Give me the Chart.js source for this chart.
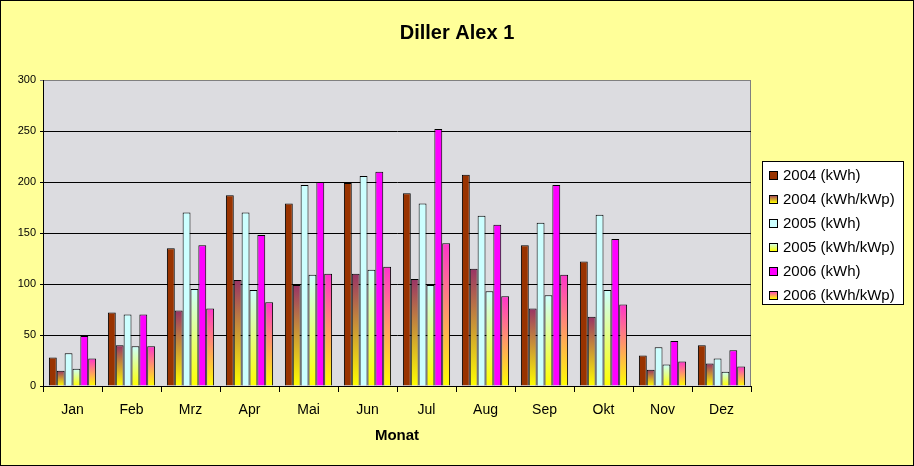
<!DOCTYPE html>
<html>
<head>
<meta charset="utf-8">
<title>Diller Alex 1</title>
<script src="https://cdn.jsdelivr.net/npm/chart.js@4/dist/chart.umd.min.js"></script>
<style>
  html, body { margin: 0; padding: 0; background: #FFFF99; }
  #wrap { width: 914px; height: 466px; }
</style>
</head>
<body>
<div id="wrap"><canvas id="chart" width="914" height="466"></canvas></div>
<script>
const months = ['Jan', 'Feb', 'Mrz', 'Apr', 'Mai', 'Jun', 'Jul', 'Aug', 'Sep', 'Okt', 'Nov', 'Dez'];

const kwh2004  = [28, 72, 135, 187, 179, 199, 189, 207, 138, 122, 30, 40];
const kwp2004  = [15, 40, 74, 104, 99, 110, 105, 115, 76, 68, 16, 22];
const kwh2005  = [32, 70, 170, 170, 197, 206, 179, 167, 160, 168, 38, 27];
const kwp2005  = [17, 39, 95, 94, 109, 114, 99, 93, 89, 94, 21, 14];
const kwh2006  = [49, 70, 138, 148, 200, 210, 252, 158, 197, 144, 44, 35];
const kwp2006  = [27, 39, 76, 82, 110, 117, 140, 88, 109, 80, 24, 19];

const yTicks = [0, 50, 100, 150, 200, 250, 300];

const FONT = 'Arial, "Liberation Sans", sans-serif';
const YELLOW = '#FFFF00';

// fade from colour at the top of each bar to yellow at its base
function fade(top) {
    return (c) => {
        const chart = c.chart;
        const y = chart.scales.y;
        if (!chart.chartArea || !y || c.type !== 'data') return top;
        const y0 = y.getPixelForValue(c.raw);
        const y1 = y.getPixelForValue(0);
        if (!isFinite(y0) || y1 - y0 < 1) return top;
        const g = chart.ctx.createLinearGradient(0, y0, 0, y1);
        g.addColorStop(0, top);
        g.addColorStop(1, YELLOW);
        return g;
    };
}

const series = [
    { label: '2004 (kWh)',     data: kwh2004, color: '#993300', grad: false },
    { label: '2004 (kWh/kWp)', data: kwp2004, color: '#993366', grad: true },
    { label: '2005 (kWh)',     data: kwh2005, color: '#CCFFFF', grad: false },
    { label: '2005 (kWh/kWp)', data: kwp2005, color: '#CCFFFF', grad: true },
    { label: '2006 (kWh)',     data: kwh2006, color: '#FF00FF', grad: false },
    { label: '2006 (kWh/kWp)', data: kwp2006, color: '#FF33CC', grad: true }
];

const backdrop = {
    id: 'backdrop',
    beforeDraw(chart) {
        const { ctx, chartArea: a, width, height } = chart;
        ctx.save();
        ctx.fillStyle = '#FFFF99';
        ctx.fillRect(0, 0, width, height);
        ctx.fillStyle = '#DCDCE0';
        ctx.fillRect(a.left, a.top, a.right - a.left, a.bottom - a.top);
        ctx.strokeStyle = '#808080';
        ctx.lineWidth = 1;
        ctx.strokeRect(a.left + 0.5, a.top + 0.5, a.right - a.left - 1, a.bottom - a.top);
        ctx.restore();
    },
    afterDraw(chart) {
        const { ctx, width, height } = chart;
        ctx.save();
        ctx.strokeStyle = '#000';
        ctx.lineWidth = 1;
        ctx.strokeRect(0.5, 0.5, width - 1, height - 1);
        ctx.restore();
    }
};

// legend box on the right, like the Excel one
const boxLegend = {
    id: 'boxLegend',
    afterDraw(chart) {
        const ctx = chart.ctx;
        const bx = 762, by = 161, bw = 142, bh = 144;
        ctx.save();
        ctx.fillStyle = '#FFFFFF';
        ctx.fillRect(bx, by, bw, bh);
        ctx.strokeStyle = '#000';
        ctx.lineWidth = 1;
        ctx.strokeRect(bx + 0.5, by + 0.5, bw - 1, bh - 1);
        ctx.font = '15px ' + FONT;
        ctx.textBaseline = 'middle';
        ctx.textAlign = 'left';
        chart.data.datasets.forEach((ds, i) => {
            const cy = 175 + i * 24;
            const s = series[i];
            let fill = s.color;
            if (s.grad) {
                fill = ctx.createLinearGradient(0, cy - 4, 0, cy + 4);
                fill.addColorStop(0, s.color);
                fill.addColorStop(1, YELLOW);
            }
            ctx.fillStyle = fill;
            ctx.fillRect(769, cy - 4, 8, 8);
            ctx.strokeRect(769.5, cy - 3.5, 8, 8);
            ctx.fillStyle = '#000';
            ctx.fillText(ds.label, 783, cy + 1);
        });
        ctx.restore();
    }
};

new Chart(document.getElementById('chart').getContext('2d'), {
    type: 'bar',
    data: {
        labels: months,
        datasets: series.map(s => ({
            label: s.label,
            data: s.data,
            backgroundColor: s.grad ? fade(s.color) : s.color,
            borderColor: '#000',
            borderWidth: 1,
            borderSkipped: 'bottom',
            categoryPercentage: 0.8,
            barPercentage: 1.0
        }))
    },
    options: {
        responsive: false,
        animation: false,
        layout: { padding: 0 },
        plugins: {
            legend: { display: false },
            tooltip: { enabled: false },
            title: {
                display: true,
                text: 'Diller Alex 1',
                color: '#000',
                font: { family: FONT, size: 20, weight: 'bold', lineHeight: 1.2 },
                padding: { top: 21, bottom: 35 }
            }
        },
        scales: {
            x: {
                afterFit: (s) => { s.height = 80; },
                grid: {
                    offset: true,
                    drawOnChartArea: false,
                    color: '#000',
                    tickLength: 6
                },
                border: { color: '#000' },
                ticks: { color: '#000', font: { family: FONT, size: 14 }, padding: 10 },
                title: {
                    display: true,
                    text: 'Monat',
                    color: '#000',
                    font: { family: FONT, size: 15, weight: 'bold', lineHeight: 1.2 },
                    padding: { top: 0, bottom: 21 }
                }
            },
            y: {
                min: yTicks[0],
                max: yTicks[yTicks.length - 1],
                afterFit: (s) => { s.width = 43; },
                afterBuildTicks: (s) => { s.ticks = yTicks.map(v => ({ value: v })); },
                grid: {
                    color: (c) => (c.tick && c.tick.value === 300 ? '#808080' : '#000'),
                    tickLength: 3
                },
                border: { color: '#000' },
                ticks: { color: '#000', font: { family: FONT, size: 11 }, padding: 4 }
            },
            // empty right-hand axis that only reserves room for the legend box
            side: {
                position: 'right',
                min: 0,
                max: 300,
                afterFit: (s) => { s.width = 163; },
                grid: { display: false, drawOnChartArea: false },
                border: { display: false },
                ticks: { display: false }
            }
        }
    },
    plugins: [backdrop, boxLegend]
});
</script>
</body>
</html>
